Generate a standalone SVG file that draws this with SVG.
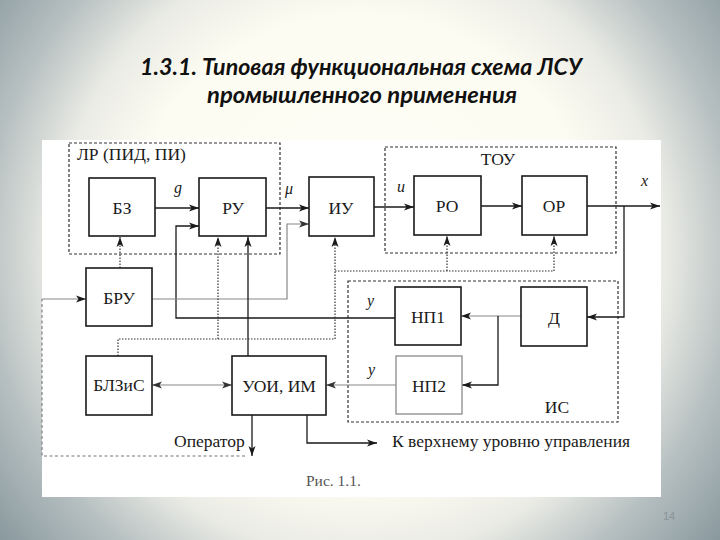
<svg xmlns="http://www.w3.org/2000/svg" width="720" height="540" viewBox="0 0 720 540">
  <defs>
    <radialGradient id="bg" gradientUnits="userSpaceOnUse" cx="360" cy="250" r="470">
      <stop offset="0" stop-color="#fffff8"/>
      <stop offset="0.5" stop-color="#fdfcf2"/>
      <stop offset="0.65" stop-color="#eaebe5"/>
      <stop offset="0.8" stop-color="#b7c0c1"/>
      <stop offset="1" stop-color="#85959b"/>
    </radialGradient>
    <marker id="ah" markerUnits="userSpaceOnUse" markerWidth="11" markerHeight="8" refX="10" refY="4" orient="auto-start-reverse">
      <path d="M0,0.5 L10,4 L0,7.5 L2.5,4 Z" fill="#1a1a1a"/>
    </marker>
    <marker id="ahg" markerUnits="userSpaceOnUse" markerWidth="11" markerHeight="8" refX="10" refY="4" orient="auto-start-reverse">
      <path d="M0,0.5 L10,4 L0,7.5 L2.5,4 Z" fill="#333"/>
    </marker>
  </defs>
  <style>
    .box { fill: #fff; stroke: #1a1a1a; stroke-width: 1.6; }
    .boxg { fill: #fff; stroke: #8a8a8a; stroke-width: 1.3; }
    .grp { fill: none; stroke: #333; stroke-width: 1.2; stroke-dasharray: 3 2; }
    .ln { fill: none; stroke: #1a1a1a; stroke-width: 1.3; }
    .lng { fill: none; stroke: #888; stroke-width: 1.2; }
    .dot { fill: none; stroke: #333; stroke-width: 1.2; stroke-dasharray: 1.5 1.5; }
    .dash { fill: none; stroke: #777; stroke-width: 1.1; stroke-dasharray: 3 2.5; }
    .t { font-family: "Liberation Serif", "Times New Roman", serif; font-size: 17.5px; fill: #1a1a1a; }
    .tc { text-anchor: middle; }
    .it { font-family: "Liberation Serif", "Times New Roman", serif; font-style: italic; font-size: 16px; fill: #1a1a1a; }
    .title { font-family: Lato, "Noto Sans", sans-serif; font-weight: bold; font-style: italic; font-size: 22px; fill: #111; }
  </style>

  <rect x="0" y="0" width="720" height="540" fill="url(#bg)"/>
  <rect x="42" y="140" width="619" height="357" fill="#ffffff"/>

  <text class="title" x="140" y="75" textLength="442" lengthAdjust="spacingAndGlyphs">1.3.1. Типовая функциональная схема ЛСУ</text>
  <text class="title" x="207" y="103" textLength="310" lengthAdjust="spacingAndGlyphs">промышленного применения</text>

  <g id="group-LR">
    <rect class="grp" x="69" y="143" width="211" height="111"/>
    <text class="t" x="77" y="160">ЛР (ПИД, ПИ)</text>
  </g>
  <g id="group-TOU">
    <rect class="grp" x="385" y="147" width="231" height="106"/>
    <text class="t tc" x="498" y="165">ТОУ</text>
  </g>
  <g id="group-IS">
    <rect class="grp" x="348" y="281" width="270" height="141"/>
    <text class="t tc" x="557" y="413">ИС</text>
  </g>

  <g id="connectors">
    <path class="ln" d="M155,208 H199" marker-end="url(#ah)"/>
    <path class="ln" d="M266,208 H309" marker-end="url(#ah)"/>
    <path class="ln" d="M374,207 H414" marker-end="url(#ah)"/>
    <path class="ln" d="M481,206 H522" marker-end="url(#ah)"/>
    <path class="ln" d="M587,206 H660" marker-end="url(#ah)"/>
    <path class="ln" d="M624,206 V317 H587" marker-end="url(#ah)"/>
    <path class="lng" d="M521,316 H461" marker-end="url(#ah)"/>
    <path class="ln" d="M498,316 V385 H462" marker-end="url(#ah)"/>
    <path class="ln" d="M395,318 H176 V226 H199" marker-end="url(#ah)"/>
    <path class="lng" d="M396,385 H326" marker-end="url(#ahg)"/>
    <path class="lng" d="M152,299 H287 V224 H309" marker-end="url(#ahg)"/>
    <path class="ln" d="M248,356 V237" marker-end="url(#ah)"/>
    <path class="lng" d="M152,385 H232" marker-start="url(#ahg)" marker-end="url(#ahg)"/>
    <path class="ln" d="M252,415 V456" marker-end="url(#ah)"/>
    <path class="ln" d="M307,415 V443 H377" marker-end="url(#ah)"/>
    <path class="dash" d="M245,456 H42 V299"/>
    <path class="lng" d="M42,299 H86" marker-end="url(#ah)"/>
    <path class="dot" d="M120,268 V237" marker-end="url(#ah)"/>
    <path class="dot" d="M118,356 V339 H335"/>
    <path class="dot" d="M218,339 V237" marker-end="url(#ah)"/>
    <path class="dot" d="M335,339 V237" marker-end="url(#ah)"/>
    <path class="dot" d="M335,271 H554"/>
    <path class="dot" d="M447,271 V236" marker-end="url(#ah)"/>
    <path class="dot" d="M554,271 V236" marker-end="url(#ah)"/>
    <text class="it" x="174" y="193">g</text>
    <text class="it" x="285" y="194">μ</text>
    <text class="it" x="397" y="192">u</text>
    <text class="it" x="641" y="186">x</text>
    <text class="it" x="367" y="306">y</text>
    <text class="it" x="368" y="375">y</text>
    <text class="t" x="174" y="447">Оператор</text>
    <text class="t" x="392" y="447">К верхнему уровню управления</text>
  </g>

  <g id="node-BZ">
    <rect class="box" x="89" y="178" width="66" height="58"/>
    <text class="t tc" x="122" y="214">БЗ</text>
  </g>
  <g id="node-RU">
    <rect class="box" x="199" y="178" width="67" height="58"/>
    <text class="t tc" x="233" y="214">РУ</text>
  </g>
  <g id="node-IU">
    <rect class="box" x="309" y="177" width="65" height="59"/>
    <text class="t tc" x="341" y="214">ИУ</text>
  </g>
  <g id="node-RO">
    <rect class="box" x="414" y="176" width="67" height="59"/>
    <text class="t tc" x="447" y="212">РО</text>
  </g>
  <g id="node-OR">
    <rect class="box" x="522" y="176" width="65" height="59"/>
    <text class="t tc" x="554" y="212">ОР</text>
  </g>
  <g id="node-BRU">
    <rect class="box" x="86" y="268" width="66" height="58"/>
    <text class="t tc" x="119" y="304">БРУ</text>
  </g>
  <g id="node-BLZiS">
    <rect class="box" x="86" y="356" width="66" height="59"/>
    <text class="t tc" x="119" y="391">БЛЗиС</text>
  </g>
  <g id="node-UOI">
    <rect class="box" x="232" y="356" width="94" height="59"/>
    <text class="t tc" x="279" y="392">УОИ, ИМ</text>
  </g>
  <g id="node-NP1">
    <rect class="box" x="395" y="287" width="66" height="58"/>
    <text class="t tc" x="428" y="323">НП1</text>
  </g>
  <g id="node-NP2">
    <rect class="boxg" x="396" y="356" width="66" height="58"/>
    <text class="t tc" x="429" y="392">НП2</text>
  </g>
  <g id="node-D">
    <rect class="box" x="521" y="287" width="66" height="59"/>
    <text class="t tc" x="554" y="324">Д</text>
  </g>

  <text x="306" y="486" font-family="Liberation Serif, serif" font-size="15.5" fill="#555">Рис. 1.1.</text>
  <text x="663" y="520" font-family="Liberation Sans, sans-serif" font-size="11" fill="#8a9498">14</text>
</svg>
